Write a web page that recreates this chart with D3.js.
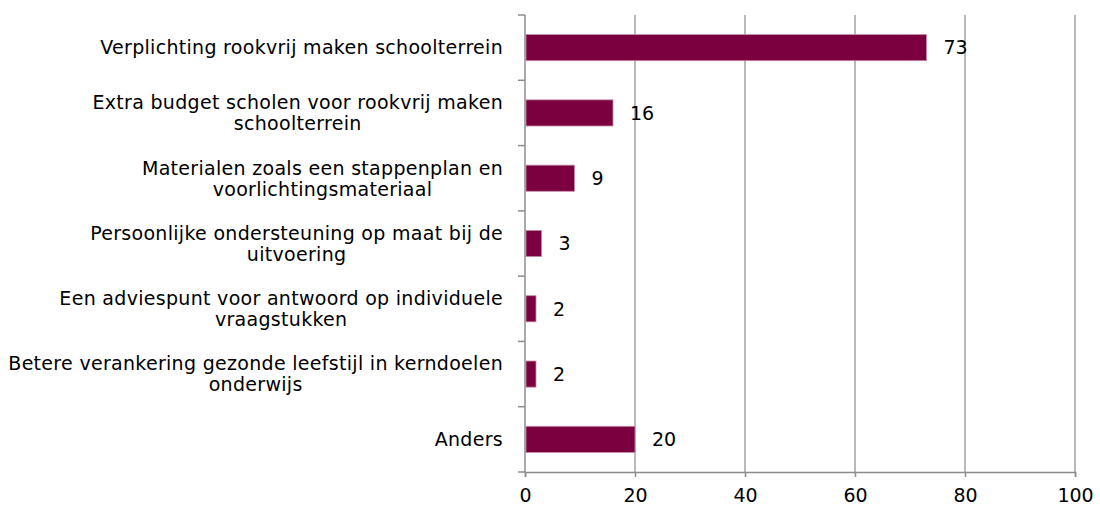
<!DOCTYPE html>
<html lang="nl">
<head>
  <meta charset="UTF-8">
  <title>Rookvrij schoolterrein</title>
  <script src="https://d3js.org/d3.v7.min.js"></script>
  <style>
    body { margin: 0; background: #fff; }
    text { font-family: "DejaVu Sans", Verdana, sans-serif; font-size: 19px; fill: #000; }
    .cat { letter-spacing: 0.3px; }
  </style>
</head>
<body>
<div id="chart"></div>
<script>
  // categories (each an array of label lines) and values in percent
  const categories = [
    ["Verplichting rookvrij maken schoolterrein"],
    ["Extra budget scholen voor rookvrij maken", "schoolterrein"],
    ["Materialen zoals een stappenplan en", "voorlichtingsmateriaal"],
    ["Persoonlijke ondersteuning op maat bij de", "uitvoering"],
    ["Een adviespunt voor antwoord op individuele", "vraagstukken"],
    ["Betere verankering gezonde leefstijl in kerndoelen", "onderwijs"],
    ["Anders"]
  ];
  const values = [73, 16, 9, 3, 2, 2, 20];
  const xTicks = [0, 20, 40, 60, 80, 100];

  const width = 1100, height = 508;
  const margin = { top: 15, right: 25, bottom: 36, left: 525 };
  const w = width - margin.left - margin.right;
  const h = height - margin.top - margin.bottom;

  const svg = d3.select("#chart").append("svg")
    .attr("width", width)
    .attr("height", height);
  const g = svg.append("g").attr("transform", `translate(${margin.left},${margin.top})`);

  const idx = d3.range(categories.length);
  const x = d3.scaleLinear().domain([0, 100]).range([0, w]);
  const y = d3.scaleBand().domain(idx).range([0, h]).paddingInner(0.6).paddingOuter(0.3);
  const yb = d3.scaleBand().domain(idx).range([0, h]); // full bands for tick positions

  // vertical gridlines
  g.selectAll(".grid").data(xTicks.slice(1)).enter().append("line")
    .attr("x1", d => x(d)).attr("x2", d => x(d))
    .attr("y1", 0).attr("y2", h)
    .attr("stroke", "#8c8c8c").attr("stroke-width", 1.2);

  // bars
  g.selectAll(".bar").data(values).enter().append("rect")
    .attr("x", x(0) + 1)
    .attr("y", (d, i) => y(i))
    .attr("width", d => x(d) - x(0) - 1)
    .attr("height", y.bandwidth())
    .attr("fill", "#7a0040")
    .attr("stroke", "#c58aa6")
    .attr("stroke-width", 0.8);

  // value labels
  g.selectAll(".val").data(values).enter().append("text")
    .attr("x", d => x(d) + 17)
    .attr("y", (d, i) => y(i) + y.bandwidth() / 2)
    .attr("dy", "0.36em")
    .text(d => d);

  // y axis: line + ticks at band boundaries
  const axisColor = "#8c8c8c";
  g.append("line").attr("x1", 0).attr("x2", 0).attr("y1", 0).attr("y2", h)
    .attr("stroke", axisColor).attr("stroke-width", 1.5);
  g.selectAll(".ytick").data(d3.range(categories.length + 1)).enter().append("line")
    .attr("x1", -7).attr("x2", 0)
    .attr("y1", d => d * yb.step()).attr("y2", d => d * yb.step())
    .attr("stroke", axisColor).attr("stroke-width", 1.5);

  // x axis
  const xAxis = g.append("g")
    .attr("transform", `translate(0,${h})`)
    .call(d3.axisBottom(x).tickValues(xTicks).tickSize(5).tickPadding(12));
  xAxis.select(".domain").attr("stroke", axisColor).attr("stroke-width", 1.5);
  xAxis.selectAll(".tick line").attr("stroke", axisColor).attr("stroke-width", 1.5);
  xAxis.selectAll(".tick text")
    .style("font-family", '"DejaVu Sans", Verdana, sans-serif')
    .style("font-size", "19px").attr("fill", "#000");

  // category labels, right aligned, extra lines centred under the first
  const lineH = 21;
  categories.forEach((lines, i) => {
    const cy = yb(i) + yb.bandwidth() / 2;
    const lab = g.append("g");
    const texts = lines.map((s, j) => lab.append("text")
      .attr("class", "cat")
      .attr("y", cy + (j - (lines.length - 1) / 2) * lineH)
      .attr("dy", "0.36em")
      .text(s));
    const widths = texts.map(t => t.node().getComputedTextLength());
    const maxW = d3.max(widths);
    const right = -22;
    texts.forEach((t, j) => t.attr("x", right - maxW / 2 - widths[j] / 2));
  });
</script>
</body>
</html>
